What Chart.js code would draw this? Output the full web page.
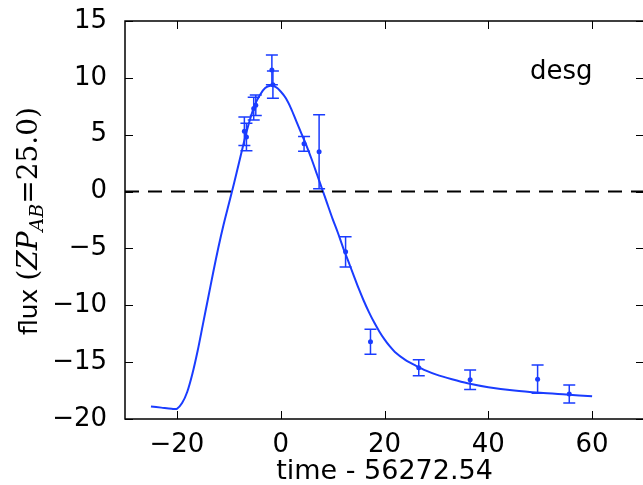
<!DOCTYPE html>
<html><head><meta charset="utf-8">
<script src="https://cdn.jsdelivr.net/npm/chart.js@4"></script>
<style>html,body{margin:0;padding:0;overflow:hidden;background:#fff;width:643px;height:485px}
canvas{display:block}</style></head>
<body><canvas id="c" width="660" height="485"></canvas>
<script>
// observed photometry (time offset, flux, 1-sigma error)
const obsTime = [-7.0, -6.6, -5.2, -4.8, -1.7, -1.5, 4.5, 7.4, 12.5, 17.3, 26.6, 36.5, 49.5, 55.6];
const obsFlux = [5.3, 4.8, 7.3, 7.6, 10.7, 9.4, 4.2, 3.5, -5.3, -13.2, -15.5, -16.55, -16.5, -17.8];
const obsErr  = [1.25, 1.2, 1.0, 0.9, 1.3, 1.2, 0.65, 3.25, 1.33, 1.1, 0.7, 0.85, 1.24, 0.8];
// model light curve
const modelTime = [-25,-23,-21,-20,-19,-18,-17,-16,-15,-14,-13,-12,-11,-10,-9,-8,-7,-6,-5,-4,-3,-2,-1,0,1,2,3,4,5,6,7,8,9,10,11,12,13,14,15,16,17,18,19,20,21,22,24,26,28,30,33,36,40,45,50,55,60];
const modelFlux = [-18.9,-19.0,-19.1,-19.1,-18.6,-17.6,-16.0,-14.0,-11.7,-9.4,-7.1,-4.9,-2.9,-1.1,0.7,2.6,4.5,6.2,7.6,8.5,9.1,9.3,9.2,8.8,8.2,7.3,6.2,5.1,4.0,2.8,1.5,0.2,-1.1,-2.4,-3.6,-4.9,-6.1,-7.3,-8.5,-9.6,-10.6,-11.5,-12.3,-13.0,-13.6,-14.1,-14.8,-15.3,-15.75,-16.1,-16.5,-16.85,-17.2,-17.5,-17.7,-17.85,-18.0];
// dashed zero reference line (x extent)
const zeroLineTime = [-30, 70];
const zeroLineFlux = [0, 0];
const xTickValues = [-20, 0, 20, 40, 60];
const yTickValues = [-20, -15, -10, -5, 0, 5, 10, 15];
const xRange = [-30, 70];
const yRange = [-20, 15];
const bandLabel = 'desg';
const xTitle = 'time - 56272.54';

const BLUE = '#1a3cff';
const SANS = '"DejaVu Sans", sans-serif';
const SERIF = '"DejaVu Serif", serif';
const fmt = v => (v < 0 ? '\u2212' + Math.abs(v) : String(v));

const framePlugin = {
  id: 'frame',
  afterDatasetsDraw(chart) {
    const ctx = chart.ctx, xs = chart.scales.x, ys = chart.scales.y;
    ctx.save();
    ctx.beginPath();
    ctx.rect(chart.chartArea.left, chart.chartArea.top, chart.chartArea.right - chart.chartArea.left, chart.chartArea.bottom - chart.chartArea.top);
    ctx.clip();
    ctx.strokeStyle = BLUE; ctx.lineWidth = 1.5;
    for (let i = 0; i < obsTime.length; i++) {
      const px = xs.getPixelForValue(obsTime[i]);
      const pt = ys.getPixelForValue(obsFlux[i] + obsErr[i]);
      const pb = ys.getPixelForValue(obsFlux[i] - obsErr[i]);
      ctx.beginPath();
      ctx.moveTo(px, pt); ctx.lineTo(px, pb);
      ctx.moveTo(px - 6, pt); ctx.lineTo(px + 6, pt);
      ctx.moveTo(px - 6, pb); ctx.lineTo(px + 6, pb);
      ctx.stroke();
    }
    ctx.restore();
  },
  afterDraw(chart) {
    const ctx = chart.ctx, a = chart.chartArea, xs = chart.scales.x, ys = chart.scales.y;
    ctx.save();
    ctx.strokeStyle = '#000'; ctx.lineWidth = 1.5;
    ctx.strokeRect(a.left, a.top, a.right - a.left, a.bottom - a.top);
    ctx.lineWidth = 1;
    ctx.beginPath();
    xTickValues.forEach(v => {
      const p = Math.round(xs.getPixelForValue(v)) + 0.5;
      ctx.moveTo(p, a.bottom); ctx.lineTo(p, a.bottom - 8);
      ctx.moveTo(p, a.top); ctx.lineTo(p, a.top + 8);
    });
    yTickValues.forEach(v => {
      const p = Math.round(ys.getPixelForValue(v)) + 0.5;
      ctx.moveTo(a.left, p); ctx.lineTo(a.left + 8, p);
      ctx.moveTo(a.right, p); ctx.lineTo(a.right - 8, p);
    });
    ctx.stroke();
    // band label
    ctx.fillStyle = '#000';
    ctx.font = '26px ' + SANS;
    ctx.textBaseline = 'alphabetic'; ctx.textAlign = 'left';
    ctx.fillText(bandLabel, 530, 79);
    // x title
    ctx.textAlign = 'center';
    ctx.font = '27px ' + SANS;
    ctx.fillText(xTitle, (a.left + a.right) / 2, 479);
    // y title with math part
    const parts = [
      {t: 'flux ', f: '25px ' + SANS, dy: 0},
      {t: '(', f: '28px ' + SERIF, dy: 0},
      {t: 'ZP', f: 'italic 28px ' + SERIF, dy: 0},
      {t: 'AB', f: 'italic 19px ' + SERIF, dy: 6},
      {t: '=25.0)', f: '28px ' + SERIF, dy: 0}
    ];
    let total = 0;
    parts.forEach(p => { ctx.font = p.f; p.w = ctx.measureText(p.t).width; total += p.w; });
    ctx.translate(37, 221);
    ctx.rotate(-Math.PI / 2);
    ctx.textAlign = 'left';
    let x = -total / 2;
    parts.forEach(p => { ctx.font = p.f; ctx.fillText(p.t, x, p.dy); x += p.w; });
    ctx.restore();
  }
};

new Chart(document.getElementById('c'), {
  type: 'scatter',
  data: {
    datasets: [
      { type: 'line', data: zeroLineTime.map((t, i) => ({x: t, y: zeroLineFlux[i]})), borderColor: '#000', borderWidth: 2, borderDash: [14, 9], pointRadius: 0, fill: false },
      { type: 'line', data: modelTime.map((t, i) => ({x: t, y: modelFlux[i]})), borderColor: BLUE, borderWidth: 2, pointRadius: 0, tension: 0.3, fill: false },
      { type: 'scatter', data: obsTime.map((t, i) => ({x: t, y: obsFlux[i]})), pointRadius: 2.5, backgroundColor: BLUE, borderWidth: 0 }
    ]
  },
  options: {
    responsive: false, animation: false, devicePixelRatio: 1,
    layout: {padding: {top: 21, right: 16, left: 0, bottom: 0}},
    plugins: {legend: {display: false}, tooltip: {enabled: false}},
    scales: {
      x: {
        type: 'linear', min: xRange[0], max: xRange[1],
        afterBuildTicks: s => { s.ticks = xTickValues.map(v => ({value: v})); },
        afterFit: s => { s.height = 66; s.paddingLeft = 0; s.paddingRight = 0; },
        grid: {display: false}, border: {display: false},
        ticks: {padding: 3, color: '#000', font: {family: SANS, size: 26}, callback: fmt, maxRotation: 0, autoSkip: false}
      },
      y: {
        type: 'linear', min: yRange[0], max: yRange[1],
        afterBuildTicks: s => { s.ticks = yTickValues.map(v => ({value: v})); },
        afterFit: s => { s.width = 125; s.paddingTop = 0; s.paddingBottom = 0; },
        grid: {display: false}, border: {display: false},
        ticks: {padding: 10, color: '#000', font: {family: SANS, size: 26}, callback: fmt, autoSkip: false}
      }
    }
  },
  plugins: [framePlugin]
});
</script>
</body></html>
